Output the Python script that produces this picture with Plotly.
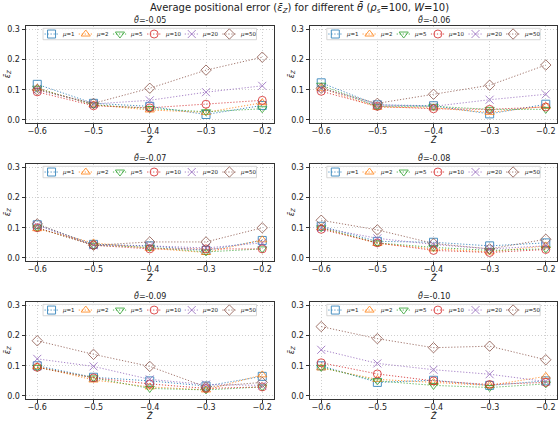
import plotly.graph_objects as go

# ---------------- data ----------------
z_values = [-0.6, -0.5, -0.4, -0.3, -0.2]
mu_values = [1, 2, 5, 10, 20, 50]
theta_labels = ["-0.05", "-0.06", "-0.07", "-0.08", "-0.09", "-0.10"]
x_ticks = [-0.6, -0.5, -0.4, -0.3, -0.2]
y_ticks = [0.0, 0.1, 0.2, 0.3]

# rows: mu = 1, 2, 5, 10, 20, 50 ; columns: z = -0.6 ... -0.2
err_theta_005 = [
    [0.118, 0.055, 0.045, 0.018, 0.048],
    [0.105, 0.050, 0.033, 0.025, 0.057],
    [0.105, 0.050, 0.038, 0.027, 0.037],
    [0.093, 0.047, 0.040, 0.052, 0.065],
    [0.100, 0.053, 0.065, 0.092, 0.113],
    [0.100, 0.055, 0.105, 0.165, 0.208],
]
err_theta_006 = [
    [0.123, 0.050, 0.047, 0.020, 0.052],
    [0.105, 0.042, 0.040, 0.025, 0.045],
    [0.115, 0.045, 0.045, 0.035, 0.035],
    [0.095, 0.045, 0.037, 0.035, 0.043],
    [0.105, 0.050, 0.045, 0.067, 0.085],
    [0.105, 0.055, 0.085, 0.115, 0.182],
]
err_theta_007 = [
    [0.110, 0.045, 0.040, 0.025, 0.058],
    [0.097, 0.050, 0.032, 0.018, 0.060],
    [0.100, 0.042, 0.035, 0.020, 0.030],
    [0.100, 0.042, 0.030, 0.030, 0.030],
    [0.108, 0.042, 0.040, 0.033, 0.050],
    [0.113, 0.042, 0.053, 0.053, 0.100],
]
err_theta_008 = [
    [0.105, 0.055, 0.052, 0.040, 0.050],
    [0.100, 0.048, 0.030, 0.020, 0.040],
    [0.100, 0.050, 0.035, 0.025, 0.030],
    [0.095, 0.050, 0.025, 0.018, 0.028],
    [0.100, 0.065, 0.045, 0.030, 0.040],
    [0.125, 0.093, 0.048, 0.030, 0.062],
]
err_theta_009 = [
    [0.100, 0.062, 0.050, 0.033, 0.065],
    [0.097, 0.053, 0.030, 0.020, 0.070],
    [0.095, 0.060, 0.025, 0.020, 0.030],
    [0.095, 0.060, 0.040, 0.025, 0.030],
    [0.123, 0.098, 0.055, 0.038, 0.035],
    [0.183, 0.138, 0.098, 0.030, 0.045],
]
err_theta_010 = [
    [0.100, 0.045, 0.052, 0.035, 0.050],
    [0.093, 0.055, 0.045, 0.035, 0.065],
    [0.095, 0.050, 0.035, 0.028, 0.040],
    [0.110, 0.073, 0.050, 0.038, 0.045],
    [0.153, 0.108, 0.087, 0.072, 0.048],
    [0.230, 0.190, 0.160, 0.165, 0.120],
]
all_errors = [err_theta_005, err_theta_006, err_theta_007,
              err_theta_008, err_theta_009, err_theta_010]

# ---------------- style ----------------
W, H = 558, 425
FONT = "DejaVu Sans"
colors = ["#1f77b4", "#ff7f0e", "#2ca02c", "#d62728", "#9467bd", "#8c564b"]
symbols = ["square-open", "triangle-up-open", "triangle-down-open",
           "circle-open", "x-thin-open", "diamond-open"]
col_px = [(26.0, 273.5), (310.0, 557.0)]
row_px = [(25.0, 122.5), (164.0, 261.5), (303.0, 400.5)]
x_range = [-0.62, -0.18]
y_range = [-0.009, 0.312]
DOT = "1.2px,1.8px"

fig = go.Figure()
layout = dict(
    width=W, height=H, margin=dict(l=0, r=0, t=0, b=0),
    paper_bgcolor="white", plot_bgcolor="rgba(0,0,0,0)",
    showlegend=False, font=dict(family=FONT, size=8, color="#222"),
)
annotations = []

for k, errs in enumerate(all_errors):
    r, c = divmod(k, 2)
    x0, x1 = col_px[c]
    y0, y1 = row_px[r]
    xa = "x" if k == 0 else f"x{k+1}"
    ya = "y" if k == 0 else f"y{k+1}"
    xkey = "xaxis" if k == 0 else f"xaxis{k+1}"
    ykey = "yaxis" if k == 0 else f"yaxis{k+1}"
    common = dict(showline=True, mirror=True, linecolor="#333", linewidth=1,
                  ticks="outside", ticklen=3.5, tickwidth=0.8, tickcolor="#333",
                  showgrid=True, gridcolor="#cfcfcf", gridwidth=0.8, griddash="1px,2px",
                  zeroline=False, tickfont=dict(family=FONT, size=8, color="#222"),
                  fixedrange=True)
    layout[xkey] = dict(domain=[x0 / W, x1 / W], range=x_range, anchor=ya,
                        tickvals=x_ticks, tickformat=".1f", ticklabelstandoff=-3,
                        **common)
    layout[ykey] = dict(domain=[1 - y1 / H, 1 - y0 / H], range=y_range, anchor=xa,
                        tickvals=y_ticks, tickformat=".1f", **common)

    for i, mu in enumerate(mu_values):
        fig.add_trace(go.Scatter(
            x=z_values, y=errs[i], xaxis=xa, yaxis=ya, mode="lines+markers",
            line=dict(color=colors[i], width=1, dash=DOT),
            marker=dict(symbol=symbols[i], size=8, color=colors[i],
                        line=dict(color=colors[i], width=1)),
            opacity=0.8, cliponaxis=False, name=f"μ={mu}", showlegend=False))

    cx = (x0 + x1) / 2
    # subplot title
    annotations.append(dict(text=f"<i>θ̄</i>=" + theta_labels[k], x=cx / W,
                            y=1 - (y0 - 6) / H, xref="paper", yref="paper",
                            xanchor="center", yanchor="middle", showarrow=False,
                            font=dict(family=FONT, size=8, color="#222")))
    # x label
    annotations.append(dict(text="<i>Z̄</i>", x=cx / W, y=1 - (y1 + 17) / H,
                            xref="paper", yref="paper", xanchor="center",
                            yanchor="middle", showarrow=False,
                            font=dict(family=FONT, size=8, color="#222")))
    # y label
    annotations.append(dict(text="<i>ε̄</i><sub><i>Z</i></sub>", x=(x0 - 18) / W,
                            y=1 - ((y0 + y1) / 2) / H, xref="paper", yref="paper",
                            xanchor="center", yanchor="middle", textangle=-90,
                            showarrow=False,
                            font=dict(family=FONT, size=8, color="#222")))

# ---------------- hand-drawn legends (overlay axis in pixel units) ----------------
layout["xaxis7"] = dict(domain=[0, 1], range=[0, W], visible=False, anchor="y7",
                        fixedrange=True)
layout["yaxis7"] = dict(domain=[0, 1], range=[H, 0], visible=False, anchor="x7",
                        fixedrange=True)
leg_labels = [f"<i>μ</i>={mu}" for mu in mu_values]
entry_w = [17 + 3.4 * len(str(mu)) + 3.4 * 2 + 7 for mu in mu_values]
leg_w = sum(entry_w) - 7 + 5
for k in range(len(all_errors)):
    r, c = divmod(k, 2)
    x0, x1 = col_px[c]
    y0, y1 = row_px[r]
    cx = (x0 + x1) / 2
    lx0, lx1 = cx - leg_w / 2, cx + leg_w / 2
    ly0, ly1 = y0 + 2.5, y0 + 14
    lcy = (ly0 + ly1) / 2
    fig.add_trace(go.Scatter(
        x=[lx0, lx1, lx1, lx0, lx0], y=[ly0, ly0, ly1, ly1, ly0],
        xaxis="x7", yaxis="y7", mode="lines", fill="toself",
        fillcolor="rgba(255,255,255,0.85)", line=dict(color="#cccccc", width=0.8),
        hoverinfo="skip", showlegend=False))
    s = lx0 + 1
    for i in range(len(mu_values)):
        mx = s + 7.5
        fig.add_trace(go.Scatter(
            x=[mx - 7, mx + 7], y=[lcy, lcy], xaxis="x7", yaxis="y7", mode="lines",
            line=dict(color=colors[i], width=1, dash=DOT), opacity=0.8,
            hoverinfo="skip", showlegend=False))
        fig.add_trace(go.Scatter(
            x=[mx], y=[lcy], xaxis="x7", yaxis="y7", mode="markers",
            marker=dict(symbol=symbols[i], size=8, color=colors[i],
                        line=dict(color=colors[i], width=1)), opacity=0.8,
            hoverinfo="skip", showlegend=False))
        annotations.append(dict(text=leg_labels[i], x=(s + 16) / W, y=1 - lcy / H,
                                xref="paper", yref="paper", xanchor="left",
                                yanchor="middle", showarrow=False,
                                font=dict(family=FONT, size=5.5, color="#222")))
        s += entry_w[i]

# main title
annotations.append(dict(
    text="Average positional error (<i>ε̄</i><sub><i>Z</i></sub>) for different "
         "<i>θ̄</i> (<i>ρ</i><sub><i>s</i></sub>=100, <i>W</i>=10)",
    x=299.5 / W, y=1 - 7 / H, xref="paper", yref="paper", xanchor="center",
    yanchor="middle", showarrow=False, font=dict(family=FONT, size=10, color="#222")))

layout["annotations"] = annotations
fig.update_layout(**layout)
fig.write_html("out.html")
